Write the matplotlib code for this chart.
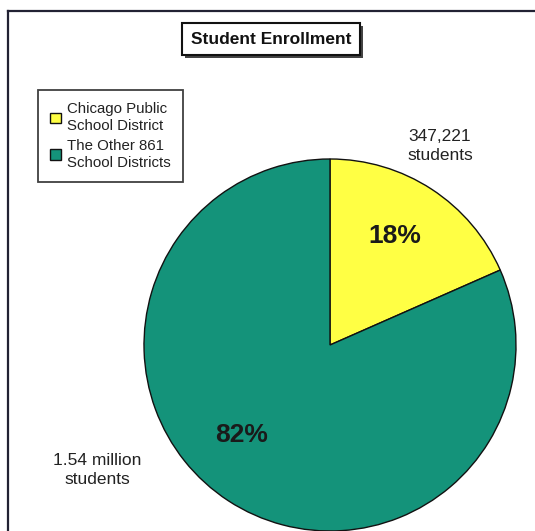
import matplotlib.pyplot as plt
from matplotlib import patheffects
from matplotlib.lines import Line2D
from matplotlib.patches import Patch

plt.rcParams['font.family'] = ['Liberation Sans', 'DejaVu Sans']

districts = ["Chicago Public\nSchool District", "The Other 861\nSchool Districts"]
enrollment = [347221, 1540000]
count_labels = ["347,221\nstudents", "1.54 million\nstudents"]
colors = ["#FFFF44", "#14937A"]

W, H = 535, 531
fig = plt.figure(figsize=(W / 100, H / 100), dpi=100)
ax = fig.add_axes([0, 0, 1, 1])

# outer chart frame (right and bottom run off the edge)
ax.add_line(Line2D([8, 8], [0, H - 11], color="#222233", lw=1.6))
ax.add_line(Line2D([8, W], [H - 11, H - 11], color="#222233", lw=1.6))

wedges, _ = ax.pie(enrollment, colors=colors, startangle=90, counterclock=False,
                   center=(330, H - 345), radius=186, frame=True,
                   wedgeprops=dict(edgecolor="#111111", linewidth=1.0))
ax.set_xlim(0, W)
ax.set_ylim(0, H)
ax.set_aspect("auto")
ax.axis("off")

total = sum(enrollment)
pcts = [f"{round(v / total * 100)}%" for v in enrollment]
ax.text(395, H - 236, pcts[0], ha="center", va="center", fontsize=19, fontweight="bold", color="#1a1a1a")
ax.text(242, H - 435, pcts[1], ha="center", va="center", fontsize=19, fontweight="bold", color="#1a1a1a")

ax.text(440, H - 146, count_labels[0], ha="center", va="center", fontsize=12.5,
        color="#222222", linespacing=1.35)
ax.text(97, H - 470, count_labels[1], ha="center", va="center", fontsize=12.5,
        color="#222222", linespacing=1.35)

# title box with a small drop shadow
title = ax.text(271, H - 39, "Student Enrollment", ha="center", va="center", fontsize=12.5,
                fontweight="bold", color="#111111",
                bbox=dict(boxstyle="square,pad=0.5", facecolor="white", edgecolor="#111111", lw=1.5))
title.get_bbox_patch().set_path_effects([
    patheffects.withSimplePatchShadow(offset=(2, -2), shadow_rgbFace="#444444", alpha=1.0)])

handles = [Patch(facecolor=c, edgecolor="#111111", linewidth=1.0) for c in colors]
leg = ax.legend(handles, districts, loc="upper left",
                bbox_to_anchor=(38 / W, (H - 90) / H), fontsize=10.8,
                frameon=True, fancybox=False, handlelength=0.7, handleheight=0.7,
                handletextpad=0.45, labelspacing=0.35, borderpad=0.8,
                borderaxespad=0)
leg.get_frame().set_edgecolor("#111111")
leg.get_frame().set_linewidth(1.3)
for t in leg.get_texts():
    t.set_linespacing(1.3)
    t.set_color("#222222")

fig.savefig("out.png", dpi=100, facecolor="white")
